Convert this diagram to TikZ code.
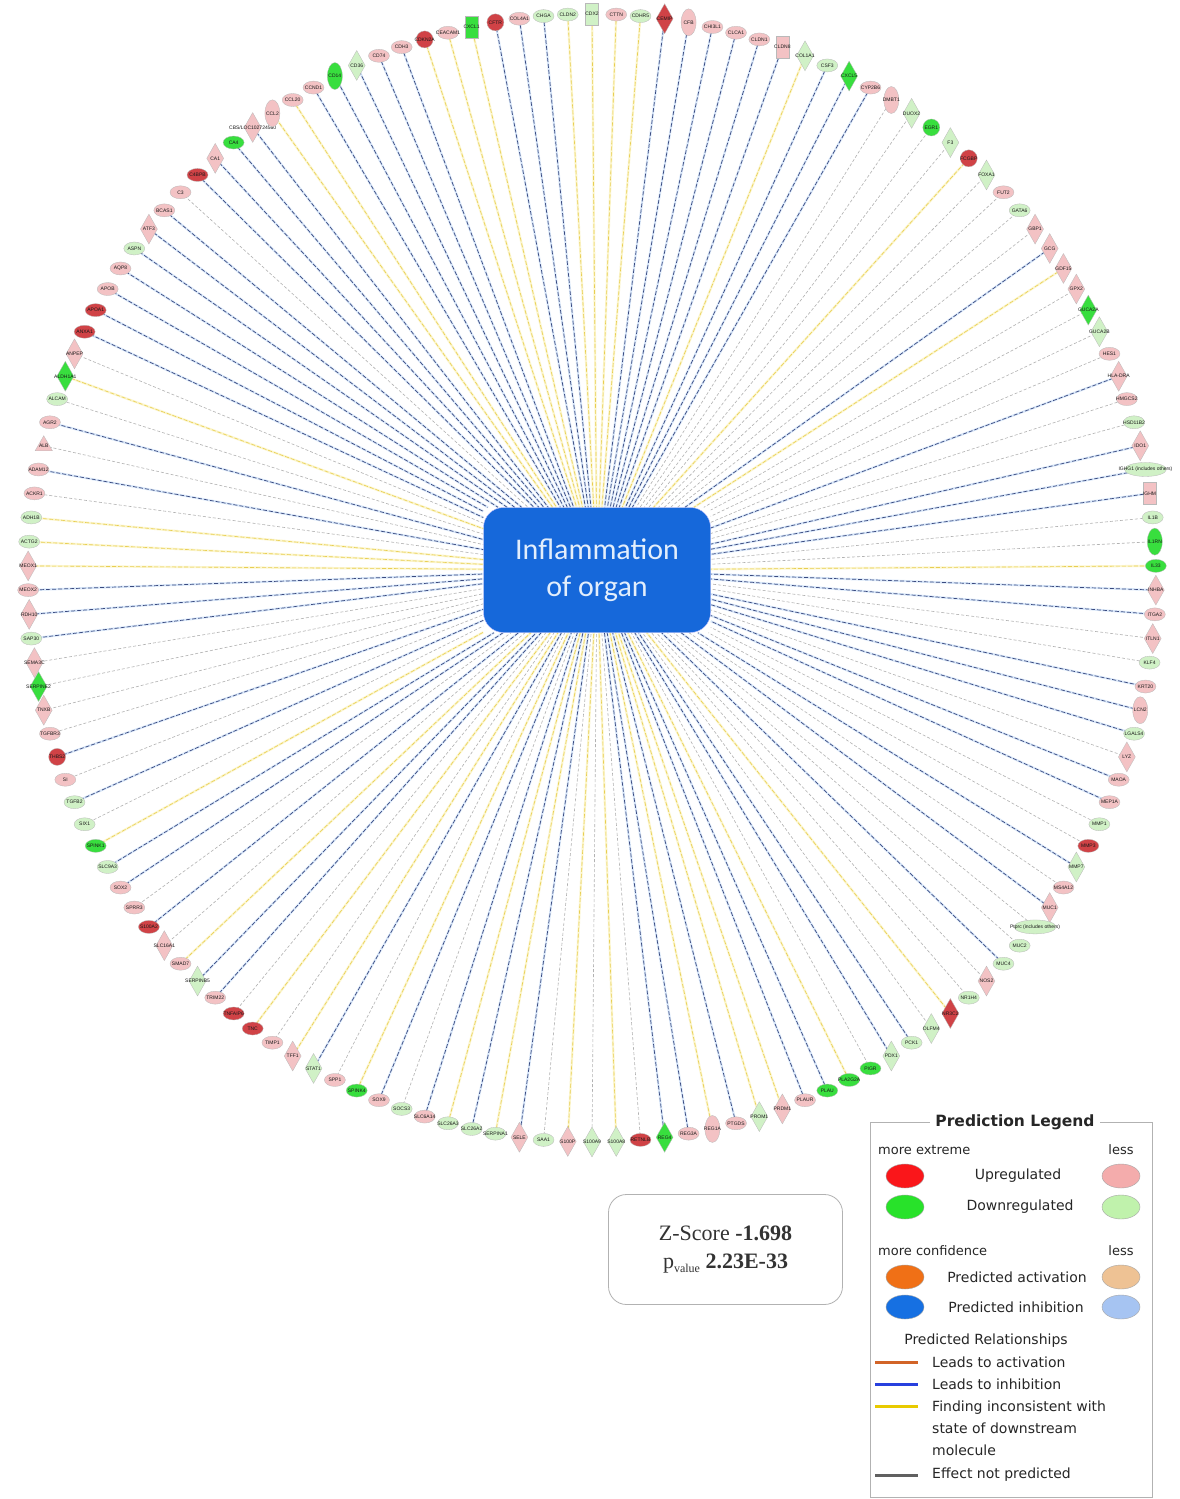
\documentclass[tikz,border=0pt]{standalone}
\usepackage{fontspec}
\setmainfont{Liberation Serif}
\newfontfamily\legfont{DejaVu Sans}
\newfontfamily\hubfont{Carlito}
\newfontfamily\genefont{Liberation Sans}
\usetikzlibrary{shapes.geometric,backgrounds}

\definecolor{upstrong}{RGB}{208,66,70}
\definecolor{uplight}{RGB}{243,194,196}
\definecolor{dnstrong}{RGB}{56,222,62}
\definecolor{dnlight}{RGB}{208,241,198}
\definecolor{hubblue}{RGB}{22,104,218}
\definecolor{inhdash}{RGB}{58,74,128}
\definecolor{inhglow}{RGB}{218,232,250}
\definecolor{incdash}{RGB}{232,206,82}
\definecolor{incglow}{RGB}{252,246,206}
\definecolor{lgred}{RGB}{250,22,26}
\definecolor{lgpink}{RGB}{244,172,172}
\definecolor{lggreen}{RGB}{40,226,42}
\definecolor{lglgreen}{RGB}{192,242,172}
\definecolor{lgorange}{RGB}{240,112,22}
\definecolor{lglorange}{RGB}{238,194,148}
\definecolor{lgblue}{RGB}{22,112,226}
\definecolor{lglblue}{RGB}{166,196,242}
\definecolor{relact}{RGB}{210,100,40}
\definecolor{relinh}{RGB}{40,64,222}
\definecolor{relinc}{RGB}{232,202,0}

\tikzset{
  gene/.style={draw=gray!55, line width=0.3pt, inner sep=0pt, text=black!90,
    font=\genefont\fontsize{5}{5}\selectfont},
  shE/.style={ellipse, minimum width=21pt, minimum height=13pt},
  shW/.style={ellipse, minimum width=42pt, minimum height=14pt},
  shV/.style={ellipse, minimum width=15pt, minimum height=27pt},
  shD/.style={diamond, minimum width=17pt, minimum height=30pt},
  shC/.style={circle, minimum size=17pt},
  shR/.style={rectangle, minimum width=13pt, minimum height=22pt},
  shT/.style={regular polygon, regular polygon sides=3, minimum size=20pt},
  upS/.style={fill=upstrong}, upL/.style={fill=uplight},
  dnS/.style={fill=dnstrong}, dnL/.style={fill=dnlight},
  inh/.style={preaction={draw=inhglow, line width=2.2pt}, draw=inhdash,
    dash pattern=on 4pt off 2pt, line width=0.7pt},
  inc/.style={preaction={draw=incglow, line width=2.2pt}, draw=incdash,
    dash pattern=on 4pt off 2pt, line width=0.6pt},
  nop/.style={draw=gray!60, dash pattern=on 3pt off 2pt, line width=0.6pt},
  hub/.style={fill=hubblue, draw=blue!25, rounded corners=20pt, minimum width=227pt,
    minimum height=125pt, align=center, text={rgb,255:red,226;green,238;blue,252},
    font=\hubfont\fontsize{30}{37}\selectfont},
  swatch/.style={ellipse, draw=gray!70, minimum width=38pt, minimum height=24pt, inner sep=0pt},
  lgtxt/.style={font=\legfont\fontsize{14}{22}\selectfont, text=black!85, inner sep=0pt},
  lgsmall/.style={font=\legfont\fontsize{13}{14}\selectfont, text=black!85, inner sep=0pt},
  rel/.style={line width=3pt}
}

\begin{document}
\begin{tikzpicture}[x=1pt,y=-1pt]
\useasboundingbox (0,0) rectangle (1180,1499);
\begin{pgfonlayer}{background}
  \fill[white] (0,0) rectangle (1180,1499);
\end{pgfonlayer}

\coordinate (ctr) at (592,578);
\node[hub] (hub) at (597,570) {Inflammation\\of organ};

% molecules round the ring, clockwise from the top
\foreach \lab/\sh/\col/\ed [count=\i] in {
  CDX2/shR/dnL/inc, CTTN/shE/upL/inc, CDHR5/shE/dnL/inc, CEMIP/shD/upS/inh,
  CFB/shV/upL/inh, CHI3L1/shE/upL/inh, CLCA1/shE/upL/inh, CLDN1/shE/upL/inh,
  CLDN8/shR/upL/inh, COL1A1/shD/dnL/inc, CSF3/shE/dnL/inh, CXCL5/shD/dnS/inh,
  CYP2B6/shE/upL/inh, DMBT1/shV/upL/nop, DUOX2/shD/dnL/nop, EGR1/shC/dnS/nop,
  F3/shD/dnL/nop, FCGBP/shC/upS/inc, FOXA1/shD/dnL/nop, FUT2/shE/upL/nop,
  GATA6/shE/dnL/nop, GBP1/shD/upL/nop, GCG/shD/upL/inh, GDF15/shD/upL/inc,
  GPX2/shD/upL/nop, GUCA2A/shD/dnS/nop, GUCA2B/shD/dnL/nop, HES1/shE/upL/nop,
  HLA-DRA/shD/upL/inh, HMGCS2/shE/upL/nop, HSD11B2/shE/dnL/nop, IDO1/shD/upL/inh,
  {IGHG1 (includes others)}/shW/dnL/inh, IGHM/shR/upL/inh, IL1B/shE/dnL/nop,
  IL1RN/shV/dnS/nop, IL33/shE/dnS/inc, INHBA/shD/upL/inh, ITGA2/shE/upL/inh,
  ITLN1/shD/upL/nop, KLF4/shE/dnL/nop, KRT20/shE/upL/inh, LCN2/shV/upL/inh,
  LGALS4/shE/dnL/inh, LYZ/shD/upL/nop, MAOA/shE/upL/inh, MEP1A/shE/upL/inh,
  MMP1/shE/dnL/nop, MMP3/shE/upS/nop, MMP7/shD/dnL/inh, MS4A12/shE/upL/nop,
  MUC1/shD/upL/inh, {Ptprc (includes others)}/shW/dnL/nop, MUC2/shE/dnL/nop,
  MUC4/shE/dnL/inh, NOS2/shD/upL/nop, NR1H4/shE/dnL/nop, NR3C2/shD/upS/inc,
  OLFM4/shD/dnL/nop, PCK1/shE/dnL/inh, PDX1/shD/dnL/inh, PIGR/shE/dnS/nop,
  PLA2G2A/shE/dnS/inc, PLAU/shE/dnS/inh, PLAUR/shE/upL/inh, PRDM1/shD/upL/inc,
  PROM1/shD/dnL/inc, PTGDS/shE/upL/inh, REG1A/shV/upL/inc, REG3A/shE/upL/inh,
  REG4/shD/dnS/inh, RETNLB/shE/upS/nop, S100A8/shD/dnL/inc, S100A9/shD/dnL/nop,
  S100P/shD/upL/inc, SAA1/shE/dnL/nop, SELE/shD/upL/inh, SERPINA1/shE/dnL/inc,
  SLC26A2/shE/dnL/inh, SLC26A3/shE/dnL/inc, SLC6A14/shE/upL/inh, SOCS3/shE/dnL/nop,
  SOX9/shE/upL/inh, SPINK4/shE/dnS/inc, SPP1/shE/upL/nop, STAT1/shD/dnL/inh,
  TFF1/shD/upL/inc, TIMP1/shE/upL/nop, TNC/shE/upS/inc, TNFAIP6/shE/upS/nop,
  TRIM22/shE/upL/inh, SERPINB5/shD/dnL/inh, SMAD7/shE/upL/inc, SLC16A1/shD/upL/nop,
  S100A2/shE/upS/inh, SPRR3/shE/upL/nop, SOX2/shE/upL/inh, SLC9A3/shE/dnL/inh,
  SPINK1/shE/dnS/inc, SIX1/shE/dnL/nop, TGFB2/shE/dnL/inh, SI/shE/upL/nop,
  THBS2/shC/upS/inh, TGFBR3/shE/upL/nop, TNXB/shD/upL/nop, SERPINE2/shD/dnS/nop,
  SEMA3C/shD/upL/nop, SAP30/shE/dnL/inh, RDH10/shD/upL/inh, MEOX2/shE/upL/inh,
  MEOX1/shD/upL/inc, ACTG2/shE/dnL/inc, ADH1B/shE/dnL/inc, ACKR1/shE/upL/nop,
  ADAM12/shE/upL/inh, ALB/shT/upL/nop, AGR2/shE/upL/inh, ALCAM/shE/dnL/nop,
  ALDH1A1/shD/dnS/inc, ANPEP/shD/upL/nop, ANXA1/shE/upS/inh, APOA1/shE/upS/inh,
  APOB/shE/upL/inh, AQP8/shE/upL/inh, ASPN/shE/dnL/inh, ATF3/shD/upL/inh,
  BCAS1/shE/upL/inh, C3/shE/upL/nop, C4BPB/shE/upS/inh, CA1/shD/upL/inh,
  CA4/shE/dnS/inh, {CBS/LOC102724560}/shD/upL/inh, CCL2/shV/upL/inc, CCL20/shE/upL/inc,
  CCND1/shE/upL/inh, CD14/shV/dnS/inh, CD36/shD/dnL/inh, CD74/shE/upL/inh,
  CDH3/shE/upL/inh, CDKN2A/shC/upS/inc, CEACAM1/shE/upL/inc, CXCL1/shR/dnS/inc,
  CFTR/shC/upS/inh, COL4A1/shE/upL/inh, CHGA/shE/dnL/inh, CLDN2/shE/dnL/inc} {
  \pgfmathsetmacro\ang{90-(\i-1)*2.46575}
  \node[gene,\sh,\col] (g\i) at ([shift={(\ang:564pt)}]ctr) {\makebox[0pt]{\lab}};
  \begin{pgfonlayer}{background}
    \draw[\ed] (g\i.center) -- (hub);
  \end{pgfonlayer}
}

% score box
\node[draw=gray!60, line width=0.8pt, rounded corners=18pt, minimum width=234pt,
  minimum height=110pt, align=center, text=black!80, font=\fontsize{22}{28}\selectfont]
  (zbox) at (725.5,1249.5)
  {Z-Score \textbf{-1.698}\\p\raisebox{-4pt}{\fontsize{12}{12}\selectfont value}~\textbf{2.23E-33}};

% legend
\node[draw=gray!60, line width=0.8pt, minimum width=282pt, minimum height=375pt] (legend) at (1011,1309.5) {};
\node[fill=white, inner xsep=5pt, inner ysep=2pt, text=black!85,
  font=\legfont\bfseries\fontsize{15.5}{16}\selectfont] (lgtitle) at (1015,1122) {Prediction Legend};

\node[lgsmall, anchor=west] (extreme) at (878,1150) {more extreme};
\node[lgsmall] (less1) at (1121,1150) {less};
\node[swatch, fill=lgred] (upS) at (905,1176) {};
\node[swatch, fill=lgpink] (upL) at (1121,1176) {};
\node[lgtxt] (upt) at (1018,1176) {Upregulated};
\node[swatch, fill=lggreen] (dnS) at (905,1207) {};
\node[swatch, fill=lglgreen] (dnL) at (1121,1207) {};
\node[lgtxt] (dnt) at (1020,1207) {Downregulated};

\node[lgsmall, anchor=west] (confid) at (878,1251) {more confidence};
\node[lgsmall] (less2) at (1121,1251) {less};
\node[swatch, fill=lgorange] (actS) at (905,1277) {};
\node[swatch, fill=lglorange] (actL) at (1121,1277) {};
\node[lgtxt] (actt) at (1017,1277) {Predicted activation};
\node[swatch, fill=lgblue] (inhS) at (905,1307) {};
\node[swatch, fill=lglblue] (inhL) at (1121,1307) {};
\node[lgtxt] (inht) at (1016,1307) {Predicted inhibition};

\node[lgtxt] (relhead) at (986,1341) {Predicted Relationships};
\node[lgtxt, anchor=west] (lbact) at (932,1362) {Leads to activation};
\node[lgtxt, anchor=west] (lbinh) at (932,1384) {Leads to inhibition};
\node[lgtxt, anchor=west, align=left] (lbinc) at (932,1428)
  {Finding inconsistent with\\state of downstream\\molecule};
\node[lgtxt, anchor=west] (lbnop) at (932,1475) {Effect not predicted};
\draw[rel, relact] ([xshift=-57pt]lbact.west) -- ([xshift=-14pt]lbact.west);
\draw[rel, relinh] ([xshift=-57pt]lbinh.west) -- ([xshift=-14pt]lbinh.west);
\draw[rel, relinc] ([xshift=-57pt,yshift=22pt]lbinc.west) -- ([xshift=-14pt,yshift=22pt]lbinc.west);
\draw[rel, gray!75!black] ([xshift=-57pt]lbnop.west) -- ([xshift=-14pt]lbnop.west);
\end{tikzpicture}
\end{document}
